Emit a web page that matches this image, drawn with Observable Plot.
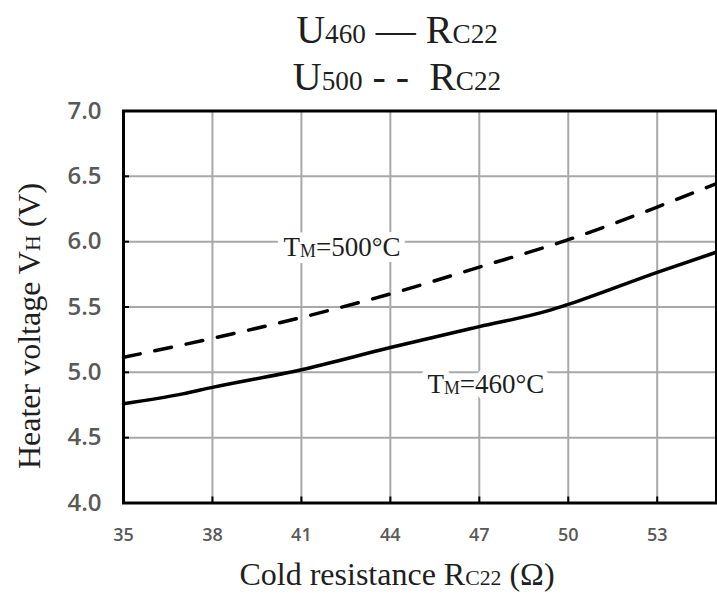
<!DOCTYPE html>
<html><head><meta charset="utf-8">
<script src="https://cdn.jsdelivr.net/npm/d3@7"></script>
<script src="https://cdn.jsdelivr.net/npm/@observablehq/plot@0.6"></script>
<style>
html,body{margin:0;padding:0;background:#fff;}
#chart svg{display:block;}
</style></head><body><div id="chart"></div>
<script>
// Data
const resistance460 = [35, 37, 38, 41, 44, 47, 49.3, 50, 53, 55];
const voltage460 = [4.76, 4.835, 4.885, 5.02, 5.19, 5.35, 5.47, 5.52, 5.765, 5.92];
const resistance500 = [35, 38, 41, 44, 47, 50, 53, 55];
const voltage500 = [5.115, 5.26, 5.42, 5.60, 5.805, 6.015, 6.265, 6.445];
const xTicks = [35, 38, 41, 44, 47, 50, 53];
const yTicks = [4.0, 4.5, 5.0, 5.5, 6.0, 6.5, 7.0];
const labelTexts = ["TM=500°C", "TM=460°C"];
const labelR = [40.4, 45.25];
const labelV = [5.96, 4.91];

const line460 = resistance460.map((r, i) => ({r, v: voltage460[i]}));
const line500 = resistance500.map((r, i) => ({r, v: voltage500[i]}));
const labels = labelTexts.map((t, i) => ({t, r: labelR[i], v: labelV[i]}));

const serif = "'Liberation Serif', 'Times New Roman', serif";
const tickFont = "'Open Sans', Lato, sans-serif";
const gridStyle = {stroke: "#a8a8a8", strokeOpacity: 1, strokeWidth: 2};
const labelStyle = {x: "r", y: "v", text: "t", textAnchor: "start", lineAnchor: "middle",
  fontFamily: serif, fontSize: 27};

const svg = Plot.plot({
  width: 717, height: 595,
  marginTop: 110.5, marginBottom: 92.5, marginLeft: 123, marginRight: 1,
  x: {domain: [35, 55]},
  y: {domain: [4, 7]},
  style: {background: "white", fontFamily: tickFont},
  marks: [
    Plot.gridX(xTicks.slice(1), gridStyle),
    Plot.gridY(yTicks.slice(1, -1), gridStyle),
    Plot.text(labels, {...labelStyle, fill: "white", stroke: "white", strokeWidth: 12}),
    Plot.text(labels, {...labelStyle, fill: "#1e1e1e"}),
    Plot.line(line460, {x: "r", y: "v", stroke: "black", strokeWidth: 3.5, curve: "monotone-x"}),
    Plot.line(line500, {x: "r", y: "v", stroke: "black", strokeWidth: 3.5, curve: "monotone-x", strokeDasharray: "17,15"}),
    Plot.frame({stroke: "black", strokeWidth: 3}),
    Plot.axisX({ticks: xTicks, tickFormat: d3.format("d"), tickSize: -6, tickPadding: 31, strokeWidth: 2,
      fontSize: 18, fontWeight: 600, fill: "#595959", label: null}),
    Plot.axisY({ticks: yTicks, tickFormat: d3.format(".1f"), tickSize: -6, tickPadding: 28, strokeWidth: 2,
      fontSize: 24, fontWeight: 600, fill: "#595959", label: null})
  ]
});
document.getElementById("chart").appendChild(svg);

const s = d3.select(svg);

// annotation subscripts
s.selectAll("text").each(function () {
  const el = d3.select(this);
  const t = el.text();
  if (labelTexts.includes(t)) {
    el.text(null);
    el.append("tspan").text("T");
    el.append("tspan").attr("font-size", "0.66em").attr("dy", "0.06em").text("M");
    el.append("tspan").attr("dy", "-0.04em").text(t.slice(2));
  }
});

function richText(parts, attrs) {
  const t = s.append("text").attr("font-family", serif).attr("fill", "#1e1e1e");
  for (const k in attrs) t.attr(k, attrs[k]);
  parts.forEach(([txt, sub]) => {
    const ts = t.append("tspan").text(txt);
    if (sub) ts.attr("font-size", "0.68em");
  });
  return t;
}

// title lines
richText([["U", 0], ["460", 1], ["\u00a0— R", 0], ["C22", 1]],
  {x: 397, y: 43, "text-anchor": "middle", "font-size": 40});
richText([["U", 0], ["500", 1], ["\u00a0- -\u00a0\u00a0R", 0], ["C22", 1]],
  {x: 397, y: 90, "text-anchor": "middle", "font-size": 40});

// axis labels
richText([["Cold resistance R", 0], ["C22", 1], [" (Ω)", 0]],
  {x: 397, y: 585, "text-anchor": "middle", "font-size": 32});
richText([["Heater voltage V", 0], ["H", 1], [" (V)", 0]],
  {transform: "translate(40,326) rotate(-90)", "text-anchor": "middle", "font-size": 32});
</script></body></html>
